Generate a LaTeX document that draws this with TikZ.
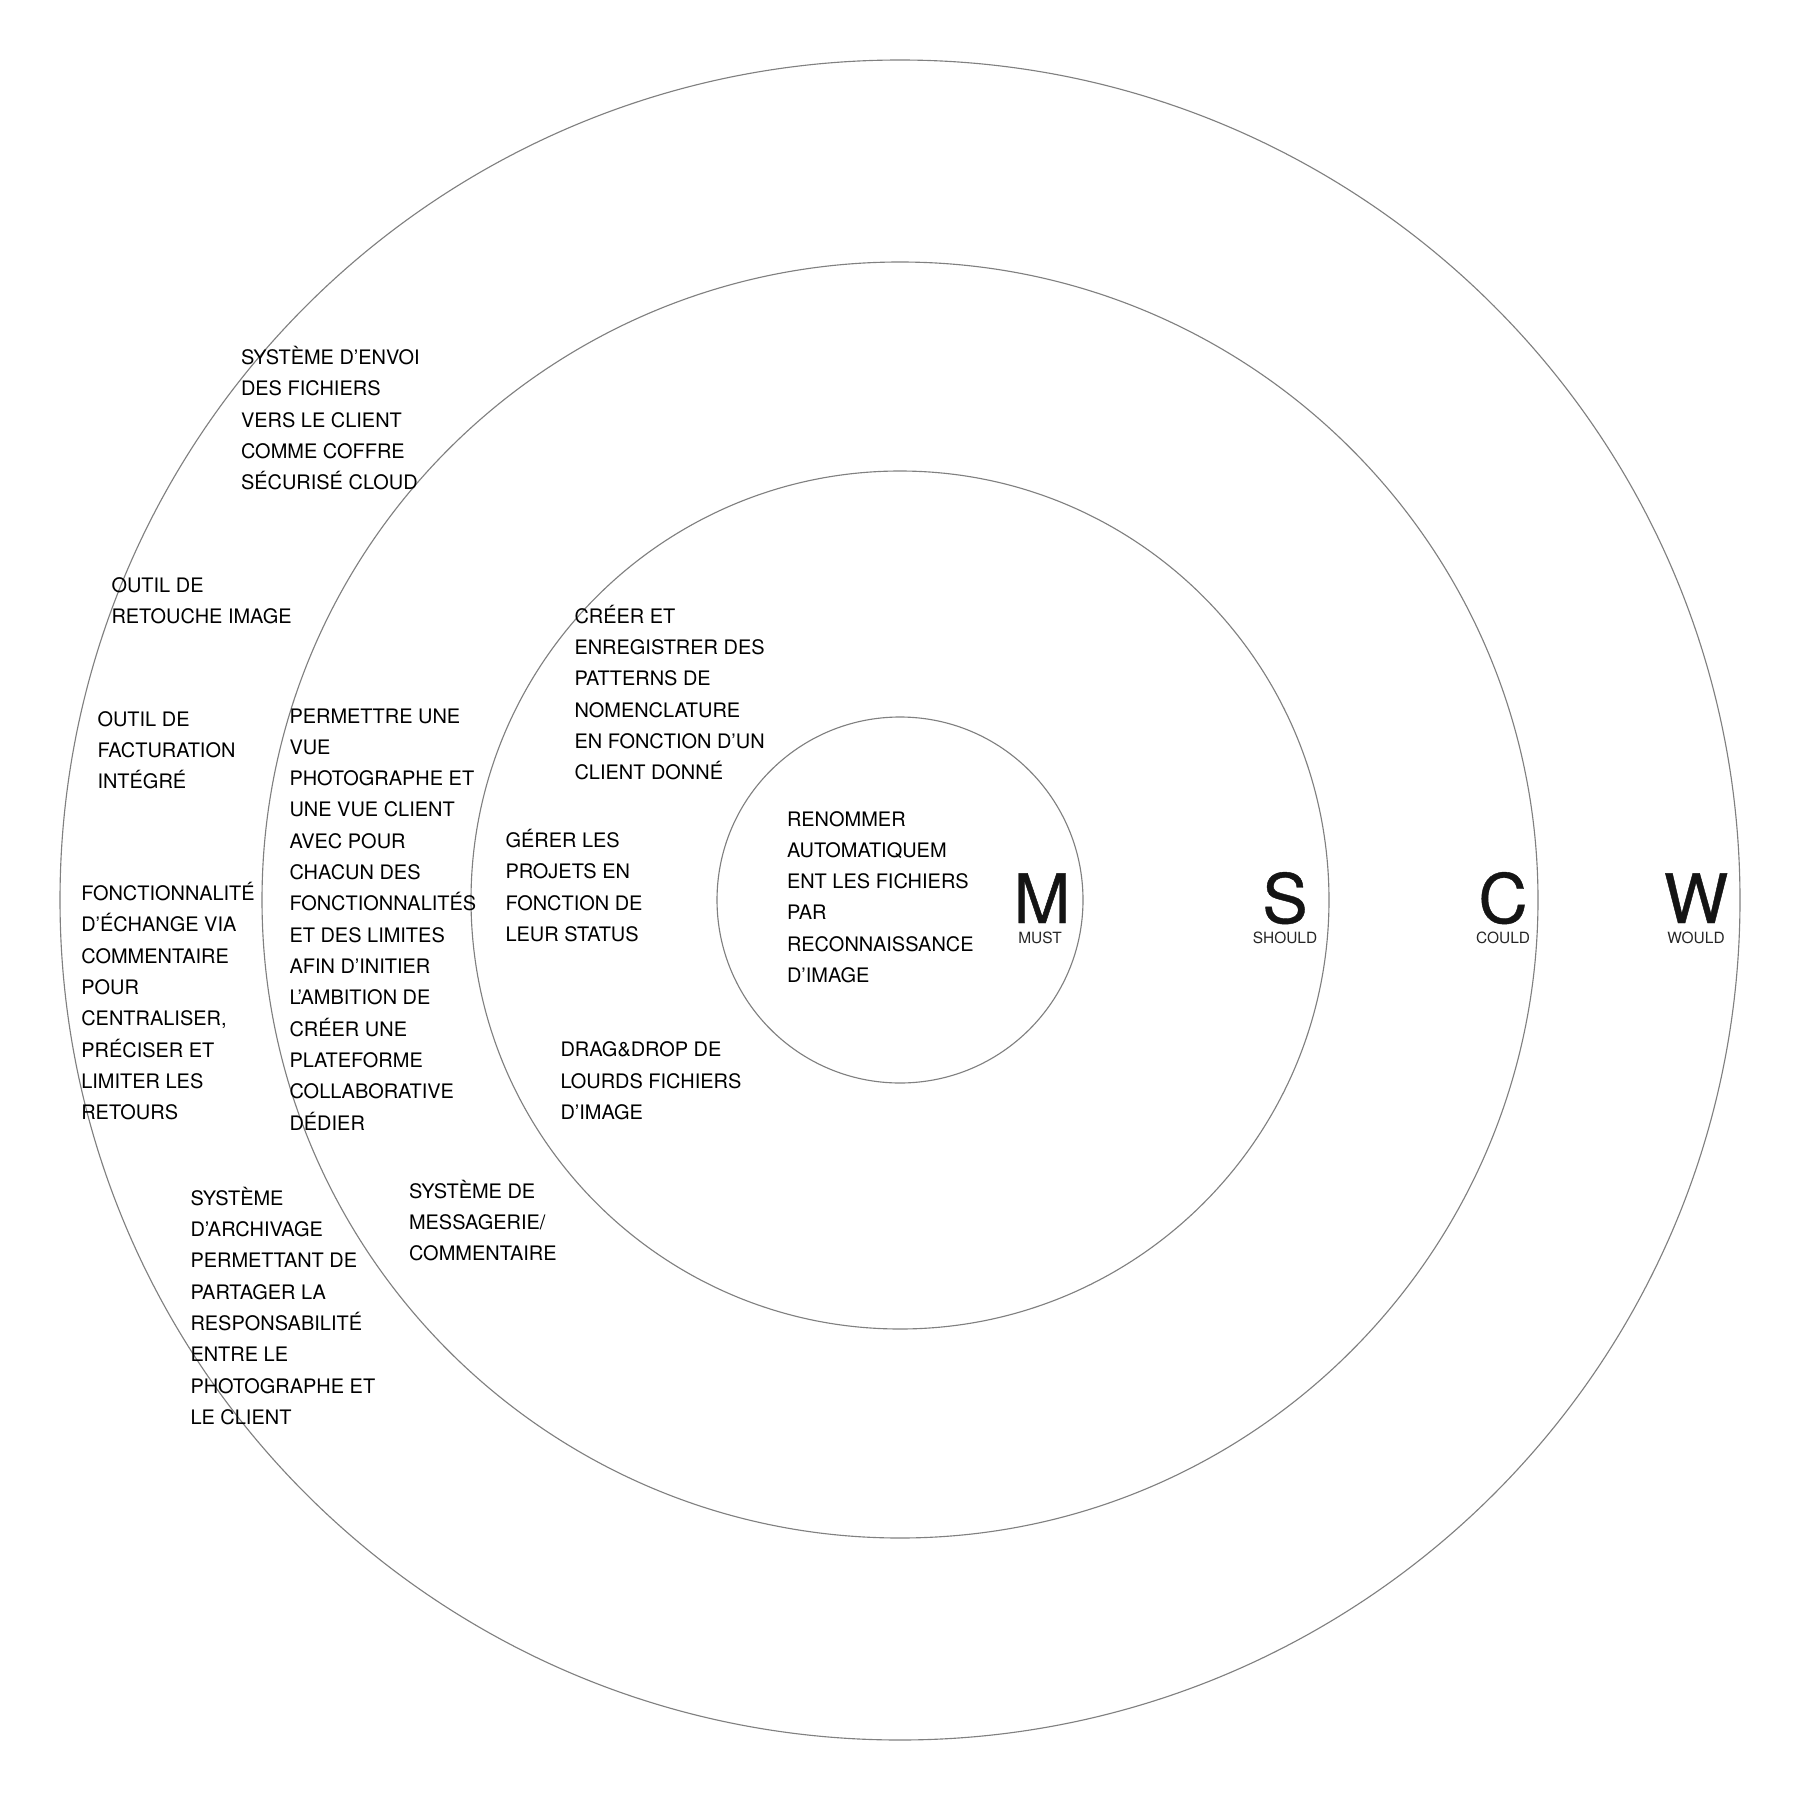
\documentclass[tikz,border=0pt]{standalone}
\usepackage{fontspec}
\setmainfont{TeX Gyre Heros}
\newfontfamily\heavyfam[FakeBold=0.6]{TeX Gyre Heros}
\newcommand\bodyfont{\fontsize{5.68}{8.91}\selectfont}
\newcommand\bigfont{\heavyfam\fontsize{19.4}{20}\selectfont}
\newcommand\lblfont{\fontsize{4.4}{5}\selectfont}
\newcommand\mtab[1]{\begin{tabular}[t]{@{}l@{}}#1\end{tabular}}
\definecolor{ringgray}{HTML}{808080}
\definecolor{lblgray}{HTML}{262626}
\begin{document}
\begin{tikzpicture}[x=0.1mm,y=-0.1mm,
  ring/.style={draw=ringgray,line width=0.32pt},
  txt/.style={anchor=base west,inner sep=0pt,outer sep=0pt,font=\bodyfont,text=black},
  bigletter/.style={anchor=base,inner sep=0pt,font=\bigfont,text=black!92},
  lbl/.style={anchor=base,inner sep=0pt,font=\lblfont,text=lblgray}]
\useasboundingbox[fill=white] (0,0) rectangle (1800,1800);
\coordinate (c) at (900,900);
\draw[ring] (c) circle[radius=84.0mm];
\draw[ring] (c) circle[radius=63.8mm];
\draw[ring] (c) circle[radius=42.9mm];
\draw[ring] (c) circle[radius=18.3mm];

\node[txt] (envoi) at (241,364.6) {\mtab{SYSTÈME D’ENVOI\\DES FICHIERS\\VERS LE CLIENT\\COMME COFFRE\\SÉCURISÉ CLOUD}};
\node[txt] (retouche) at (111.5,592) {\mtab{OUTIL DE\\RETOUCHE IMAGE}};
\node[txt] (facturation) at (97.5,726) {\mtab{OUTIL DE\\FACTURATION\\INTÉGRÉ}};
\node[txt] (echange) at (81.3,900.5) {\mtab{FONCTIONNALITÉ\\D’ÉCHANGE VIA\\COMMENTAIRE\\POUR\\CENTRALISER,\\PRÉCISER ET\\LIMITER LES\\RETOURS}};
\node[txt] (vue) at (289.5,723) {\mtab{PERMETTRE UNE\\VUE\\PHOTOGRAPHE ET\\UNE VUE CLIENT\\AVEC POUR\\CHACUN DES\\FONCTIONNALITÉS\\ET DES LIMITES\\AFIN D’INITIER\\L’AMBITION DE\\CRÉER UNE\\PLATEFORME\\COLLABORATIVE\\DÉDIER}};
\node[txt] (patterns) at (574.5,623.3) {\mtab{CRÉER ET\\ENREGISTRER DES\\PATTERNS DE\\NOMENCLATURE\\EN FONCTION D’UN\\CLIENT DONNÉ}};
\node[txt] (projets) at (505.5,847.6) {\mtab{GÉRER LES\\PROJETS EN\\FONCTION DE\\LEUR STATUS}};
\node[txt] (renommer) at (787,826) {\mtab{RENOMMER\\AUTOMATIQUEM\\ENT LES FICHIERS\\PAR\\RECONNAISSANCE\\D’IMAGE}};
\node[txt] (drag) at (560.5,1056.9) {\mtab{DRAG\&DROP DE\\LOURDS FICHIERS\\D’IMAGE}};
\node[txt] (messagerie) at (409,1198.3) {\mtab{SYSTÈME DE\\MESSAGERIE/\\COMMENTAIRE}};
\node[txt] (archivage) at (190.5,1205.2) {\mtab{SYSTÈME\\D’ARCHIVAGE\\PERMETTANT DE\\PARTAGER LA\\RESPONSABILITÉ\\ENTRE LE\\PHOTOGRAPHE ET\\LE CLIENT}};

\node[bigletter] (M) at (1042,923) {M};
\node[lbl] (must) at (1040,943) {MUST};
\node[bigletter] (S) at (1285,923) {S};
\node[lbl] (should) at (1285,943) {SHOULD};
\node[bigletter] (C) at (1503,923) {C};
\node[lbl] (could) at (1503,943) {COULD};
\node[bigletter] (W) at (1696,923) {W};
\node[lbl] (would) at (1696,943) {WOULD};
\end{tikzpicture}
\end{document}
